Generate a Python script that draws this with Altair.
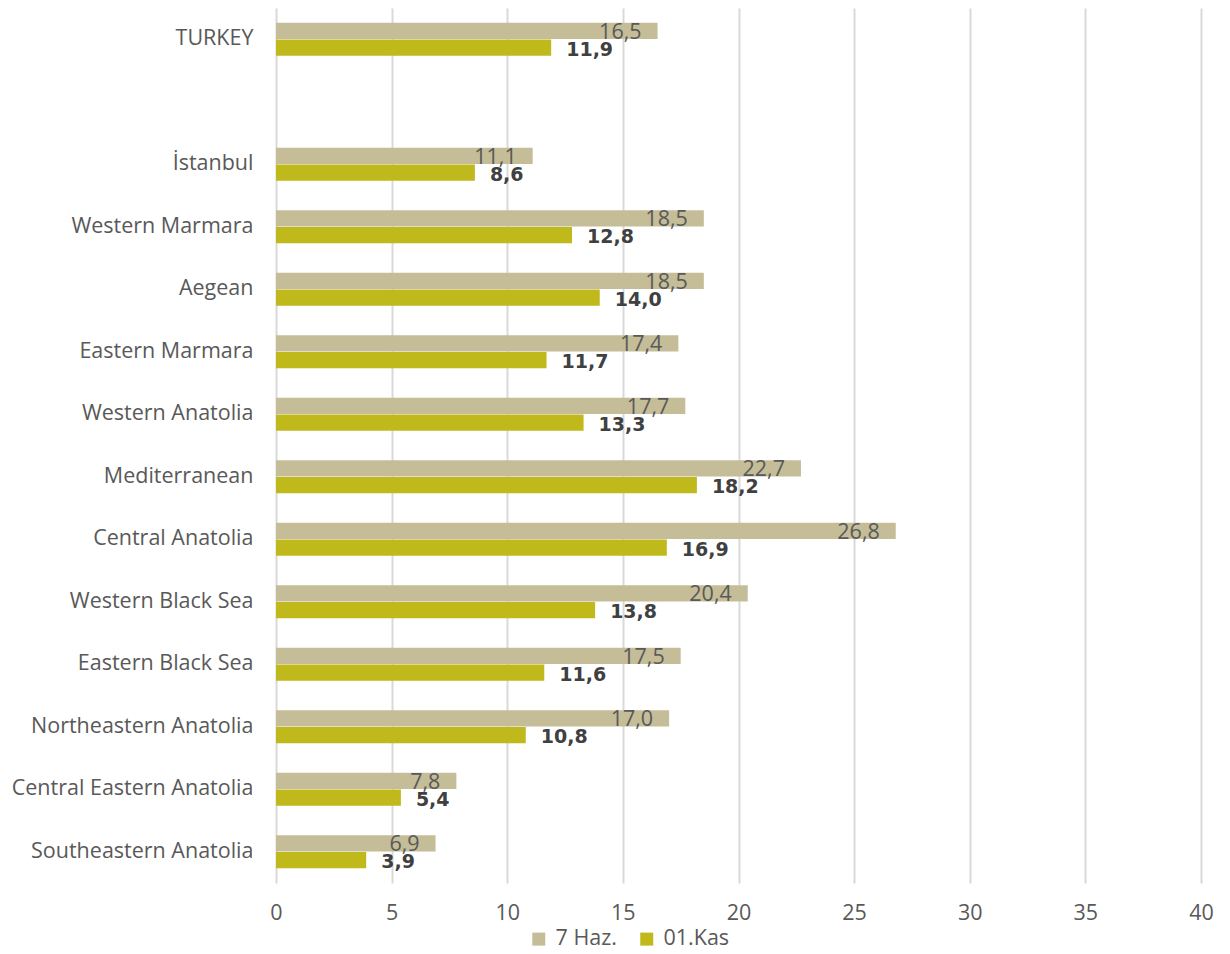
import altair as alt
import pandas as pd

regions = ["TURKEY", " ", "İstanbul", "Western Marmara", "Aegean", "Eastern Marmara",
           "Western Anatolia", "Mediterranean", "Central Anatolia", "Western Black Sea",
           "Eastern Black Sea", "Northeastern Anatolia", "Central Eastern Anatolia",
           "Southeastern Anatolia"]
data_regions = ["TURKEY", "İstanbul", "Western Marmara", "Aegean", "Eastern Marmara",
                "Western Anatolia", "Mediterranean", "Central Anatolia", "Western Black Sea",
                "Eastern Black Sea", "Northeastern Anatolia", "Central Eastern Anatolia",
                "Southeastern Anatolia"]
haz = [16.5, 11.1, 18.5, 18.5, 17.4, 17.7, 22.7, 26.8, 20.4, 17.5, 17.0, 7.8, 6.9]
kas = [11.9, 8.6, 12.8, 14.0, 11.7, 13.3, 18.2, 16.9, 13.8, 11.6, 10.8, 5.4, 3.9]
series = ["7 Haz.", "01.Kas"]
colors = ["#c4bd97", "#bfb91c"]

rows = []
for r, a, b in zip(data_regions, haz, kas):
    rows.append({"region": r, "series": series[0], "value": a})
    rows.append({"region": r, "series": series[1], "value": b})
df = pd.DataFrame(rows)

FONT = "Open Sans"
FS = 21.5

y = alt.Y("region:N", scale=alt.Scale(domain=regions, paddingInner=0.472, paddingOuter=0.236),
          axis=alt.Axis(title=None, ticks=False, domain=False, labelPadding=23, labelLimit=0,
                        labelFontSize=FS, labelColor="#595959", labelFont=FONT, grid=False))
yoff = alt.YOffset("series:N", scale=alt.Scale(domain=series, paddingInner=0.03))
x = alt.X("value:Q", scale=alt.Scale(domain=[0, 40], nice=False),
          axis=alt.Axis(title=None, values=list(range(0, 45, 5)), ticks=False, domain=False,
                        grid=True, gridColor="#d9d9d9", gridWidth=2, labelFontSize=FS,
                        labelColor="#595959", labelFont=FONT, labelPadding=19,
                        labelFlush=False))

base = alt.Chart(df).transform_calculate(
    lab="replace(format(datum.value, '.1f'), '.', ',')"
)

bars = base.mark_bar().encode(
    y=y, yOffset=yoff, x=x,
    color=alt.Color("series:N", scale=alt.Scale(domain=series, range=colors),
                    legend=alt.Legend(title=None, orient="none", direction="horizontal",
                                      legendX=252, legendY=920, labelFontSize=FS,
                                      labelColor="#595959", labelFont=FONT,
                                      symbolType="square", symbolSize=169, labelOffset=6,
                                      symbolStrokeWidth=0, columnPadding=19)),
)

t1 = base.transform_filter(alt.datum.series == series[0]).mark_text(
    align="right", baseline="middle", dx=-16, dy=2, fontSize=FS, color="#595959", font=FONT
).encode(y=y, yOffset=yoff, x=x, text="lab:N")

t2 = base.transform_filter(alt.datum.series == series[1]).mark_text(
    align="left", baseline="middle", dx=15, dy=2, fontSize=19, fontWeight="bold",
    color="#404040", font="DejaVu Sans"
).encode(y=y, yOffset=yoff, x=x, text="lab:N")

chart = alt.layer(bars, t1, t2).properties(
    width=925, height=875,
    background="white",
    autosize=alt.AutoSizeParams(type="none"),
    padding={"left": 276, "top": 8, "right": 29, "bottom": 71},
).configure_view(stroke=None)

chart.save("out.html", embed_options={"renderer": "svg", "actions": False})
